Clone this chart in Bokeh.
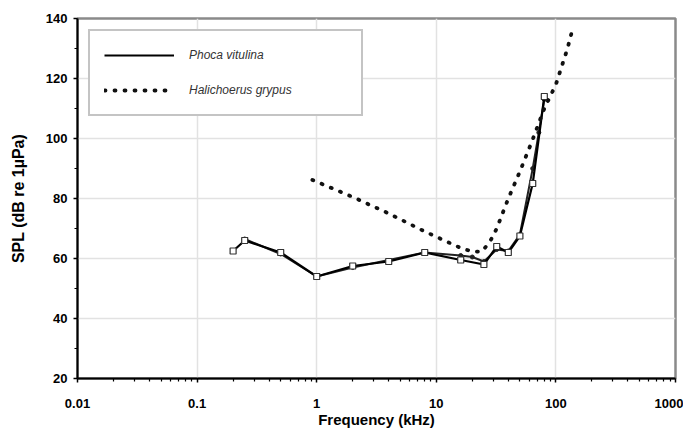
from bokeh.plotting import figure
from bokeh.models import (FixedTicker, CustomJSTickFormatter, Legend, LegendItem, Range1d)
from bokeh.embed import file_html
from bokeh.resources import INLINE

# ---- data ----
phoca_freq = [0.2, 0.25, 0.5, 1, 2, 4, 8, 16, 25, 32, 40, 50, 64, 80]
phoca_spl = [62.5, 66, 62, 54, 57.5, 59, 62, 59.5, 58, 64, 62, 67.5, 85, 114]

phoca2_freq = [0.25, 0.5, 1, 2, 8, 16, 20, 25, 32, 40, 50, 64, 72, 80]
phoca2_spl = [66.5, 61.5, 54, 57, 62, 61, 60.5, 59, 63, 62.5, 68, 90, 102, 113]

grypus_freq = [0.92, 2, 4, 8, 16, 20, 24, 28, 32, 40, 50, 63, 80, 100, 125, 140]
grypus_spl = [86.2, 80.5, 75, 69, 63.5, 62.3, 62.3, 65.5, 70, 80, 89, 99, 110, 118, 130, 137.5]

x_tick_values = [0.01, 0.1, 1, 10, 100, 1000]
x_tick_labels = ["0.01", "0.1", "1", "10", "100", "1000"]
y_tick_values = [20, 40, 60, 80, 100, 120, 140]

FONT = "Liberation Sans"

p = figure(width=683, height=430, x_axis_type="log",
           x_range=Range1d(0.01, 1000), y_range=Range1d(20, 140),
           output_backend="svg", toolbar_location=None,
           min_border_left=77, min_border_right=8, min_border_top=18, min_border_bottom=52)

p.background_fill_color = "white"
p.border_fill_color = "white"
p.outline_line_color = "#8a8a8a"
p.outline_line_width = 2.5

minor_x = [m * 10.0 ** e for e in range(-2, 3) for m in range(2, 10)]
p.xaxis.ticker = FixedTicker(ticks=x_tick_values, minor_ticks=minor_x)
p.xaxis.formatter = CustomJSTickFormatter(
    args=dict(v=x_tick_values, l=x_tick_labels),
    code="const i = v.findIndex(x => Math.abs(Math.log10(x/tick)) < 1e-6); return i >= 0 ? l[i] : String(tick);")
minor_y = [y + 10 for y in y_tick_values[:-1]]
p.yaxis.ticker = FixedTicker(ticks=y_tick_values, minor_ticks=minor_y)

for ax in (p.xaxis[0], p.yaxis[0]):
    ax.axis_line_color = "black"
    ax.axis_line_width = 2
    ax.major_tick_line_color = "black"
    ax.minor_tick_line_color = "black"
    ax.major_tick_line_width = 1.5
    ax.minor_tick_line_width = 1.2
    ax.major_tick_in = 0
    ax.minor_tick_in = 0
    ax.major_tick_out = 4
    ax.minor_tick_out = 3
    ax.major_label_text_font = FONT
    ax.major_label_text_font_style = "bold"
    ax.major_label_text_font_size = "13px"
    ax.major_label_text_color = "black"
    ax.axis_label_text_font = FONT
    ax.axis_label_text_font_style = "bold"
    ax.axis_label_text_color = "black"

p.xaxis.axis_label_text_font_size = "15px"
p.yaxis.axis_label_text_font_size = "16px"
p.xaxis.axis_label = "Frequency (kHz)"
p.yaxis.axis_label = "SPL (dB re 1µPa)"
p.xaxis.major_label_standoff = 16
p.xaxis.axis_label_standoff = 0
p.yaxis.major_label_standoff = 6
p.yaxis.axis_label_standoff = 16

p.xgrid.grid_line_color = "#e2e2e2"
p.ygrid.grid_line_color = "#e2e2e2"
p.xgrid.grid_line_width = 1.5
p.ygrid.grid_line_width = 1.5

# second harbour seal curve (no legend)
p.line(phoca2_freq, phoca2_spl, line_color="#222222", line_width=2)
p.scatter(phoca2_freq, phoca2_spl, marker="circle", size=4, fill_color="#222222", line_color="#222222")

# main curves
r_phoca = p.line(phoca_freq, phoca_spl, line_color="black", line_width=2.2)
p.scatter(phoca_freq, phoca_spl, marker="square", size=6, fill_color="white", line_color="#333333", line_width=1.2)

r_grypus = p.line(grypus_freq, grypus_spl, line_color="#111111", line_width=3.8,
                  line_dash="1 9", line_cap="round")

legend = Legend(items=[LegendItem(label="Phoca vitulina", renderers=[r_phoca]),
                       LegendItem(label="Halichoerus grypus", renderers=[r_grypus])],
                location="top_left", margin=11, padding=14, spacing=15,
                glyph_width=70, glyph_height=20, label_height=20, label_width=158,
                label_standoff=15,
                label_text_font=FONT, label_text_font_style="italic",
                label_text_font_size="12px", label_text_color="#333333",
                border_line_color="#8a8a8a", border_line_width=2.5,
                background_fill_color="white", background_fill_alpha=1)
p.add_layout(legend)

open("out.html", "w").write(file_html(p, INLINE))
